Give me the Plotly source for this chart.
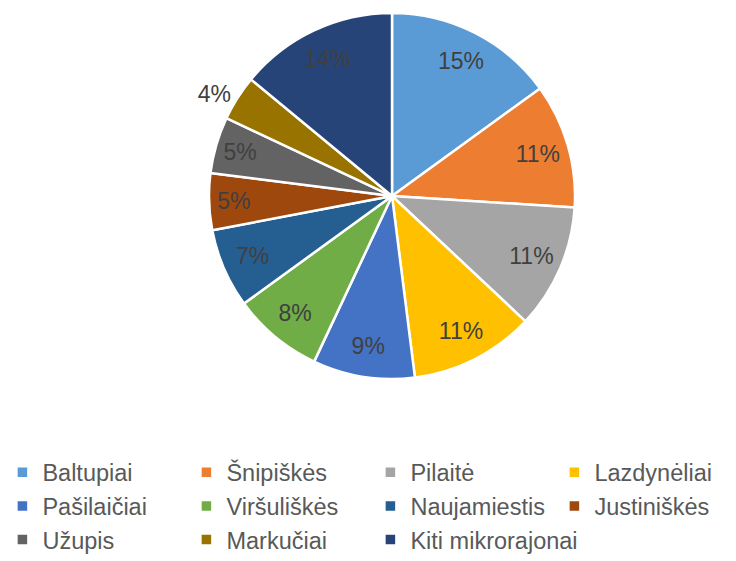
import plotly.graph_objects as go

districts = [
    "Baltupiai", "Šnipiškės", "Pilaitė", "Lazdynėliai", "Pašilaičiai",
    "Viršuliškės", "Naujamiestis", "Justiniškės", "Užupis", "Markučiai",
    "Kiti mikrorajonai",
]
shares = [15, 11, 11, 11, 9, 8, 7, 5, 5, 4, 14]
colors = [
    "#5B9BD5", "#ED7D31", "#A5A5A5", "#FFC000", "#4472C4", "#70AD47",
    "#255E91", "#9E480E", "#636363", "#997300", "#264478",
]
label_pos = ["inside"] * 9 + ["outside", "inside"]

# page body adds 8px, so the domain is nudged up/left to compensate
pie_domain = dict(x=[0.2731, 0.7704], y=[0.329, 0.991])

fig = go.Figure()

# the slices
fig.add_trace(
    go.Pie(
        labels=districts,
        values=shares,
        sort=False,
        direction="clockwise",
        rotation=0,
        marker=dict(colors=colors, line=dict(color="white", width=2.5)),
        textinfo="none",
        domain=pie_domain,
    )
)

# percentage labels, pushed out toward the rim like Excel does
fig.add_trace(
    go.Pie(
        labels=districts,
        values=shares,
        sort=False,
        direction="clockwise",
        rotation=0,
        hole=0.66,
        marker=dict(colors=["rgba(0,0,0,0)"] * len(shares), line=dict(width=0)),
        texttemplate="%{percent:.0%}",
        textposition=label_pos,
        insidetextorientation="horizontal",
        textfont=dict(size=23, color="#404040"),
        outsidetextfont=dict(size=23, color="#404040"),
        domain=pie_domain,
        showlegend=False,
        hoverinfo="skip",
    )
)

fig.update_layout(
    width=736,
    height=561,
    margin=dict(l=0, r=0, t=0, b=8, autoexpand=False),
    paper_bgcolor="white",
    font=dict(family="Liberation Sans, Arial, sans-serif", color="#404040"),
    uniformtext=dict(minsize=23, mode="show"),
    legend=dict(
        orientation="h",
        x=-0.0076,
        xanchor="left",
        y=-0.001,
        yanchor="bottom",
        entrywidth=139,
        font=dict(size=23.5, color="#595959"),
        itemwidth=30,
    ),
)

fig.write_html("out.html")
